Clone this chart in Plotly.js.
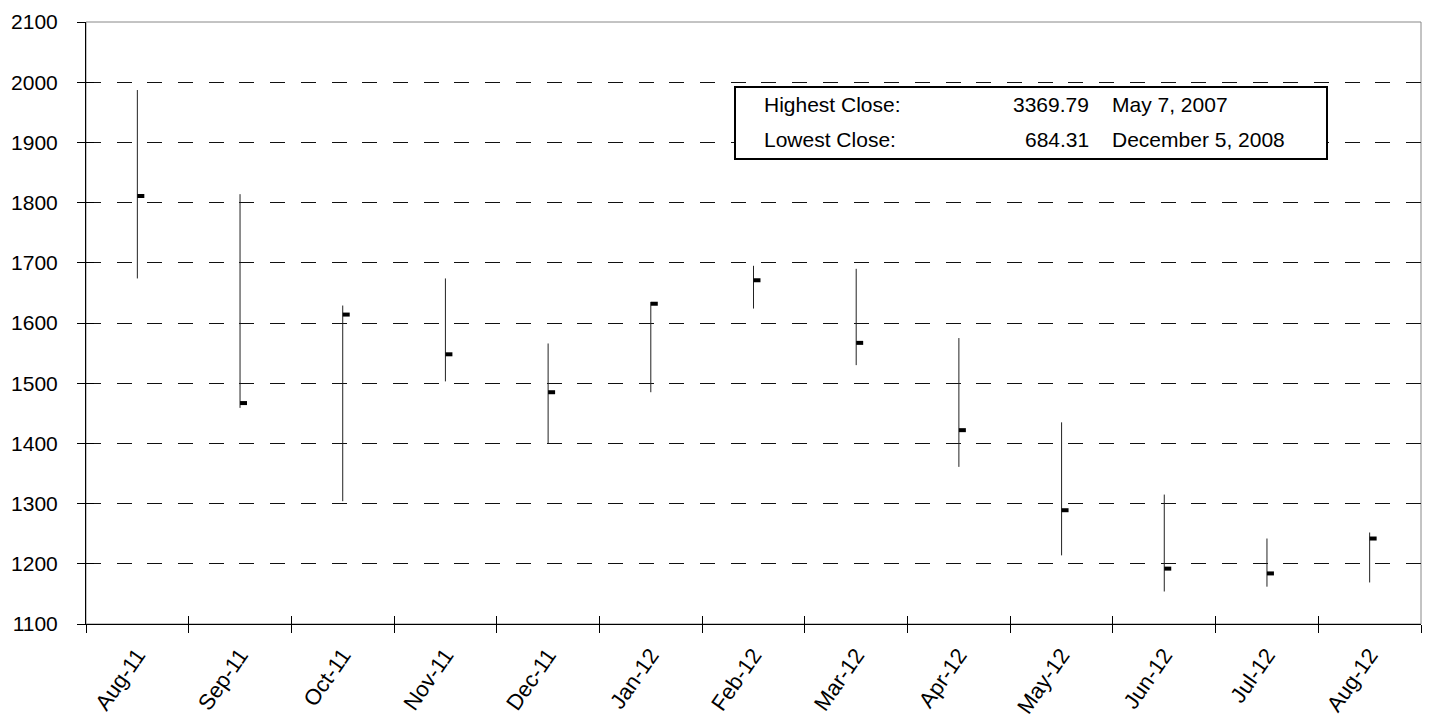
<!DOCTYPE html>
<html><head><meta charset="utf-8">
<script src="https://cdn.plot.ly/plotly-3.0.1.min.js"></script>
<style>html,body{margin:0;padding:0;background:#fff}#chart{width:1430px;height:725px}</style>
</head><body><div id="chart"></div>
<script>
const months = ['Aug-11','Sep-11','Oct-11','Nov-11','Dec-11','Jan-12','Feb-12','Mar-12','Apr-12','May-12','Jun-12','Jul-12','Aug-12'];
const highs  = [1987,1814,1629,1674,1566,1635,1695,1690,1575,1435,1315,1242,1252];
const lows   = [1674,1459,1304,1503,1400,1485,1624,1530,1361,1214,1154,1162,1169];
const closes = [1811,1467,1614,1548,1485,1632,1671,1567,1422,1289,1192,1184,1242];
const yTicks = [1100,1200,1300,1400,1500,1600,1700,1800,1900,2000,2100];
const boxLabels = ['Highest Close:','Lowest Close:'];
const boxValues = ['3369.79','684.31'];
const boxDates  = ['May 7, 2007','December 5, 2008'];

const FONT = '"Liberation Sans Narrow", "Arial Narrow", "Liberation Sans", Arial, sans-serif';
const idx = months.map((m,i)=>i);
const bounds = months.map((m,i)=>i-0.5).concat([months.length-0.5]);
const xr = [-0.5, months.length-0.5];
const yr = [yTicks[0], yTicks[yTicks.length-1]];

const hlX=[], hlY=[], cX=[], cY=[];
idx.forEach(i=>{
  hlX.push(i,i,null); hlY.push(lows[i],highs[i],null);
  cX.push(i,i+0.068,null); cY.push(closes[i],closes[i],null);
});

const traces = [
  {type:'scatter',mode:'lines',x:hlX,y:hlY,line:{color:'#222',width:1},hoverinfo:'skip',showlegend:false,connectgaps:false},
  {type:'scatter',mode:'lines',x:cX,y:cY,line:{color:'#000',width:4},hoverinfo:'skip',showlegend:false,connectgaps:false},
  {type:'scatter',mode:'markers',x:[null],y:[null],xaxis:'x2',yaxis:'y',hoverinfo:'skip',showlegend:false},
  {type:'scatter',mode:'markers',x:[null],y:[null],xaxis:'x3',yaxis:'y',hoverinfo:'skip',showlegend:false},
  {type:'scatter',mode:'markers',x:[null],y:[null],xaxis:'x',yaxis:'y2',hoverinfo:'skip',showlegend:false}
];

const L=86, R=1421, T=22, B=624;
const px = v => (v-L)/(R-L);
const py = v => (B-v)/(B-T);

const annFont = {family:FONT,size:21,color:'#000'};
const annotations = [];
const rowsY = [104,140];
boxLabels.forEach((t,k)=>{
  annotations.push({xref:'paper',yref:'paper',x:px(762),y:py(rowsY[k]),xanchor:'left',yanchor:'middle',text:t,showarrow:false,font:annFont});
  annotations.push({xref:'paper',yref:'paper',x:px(1091),y:py(rowsY[k]),xanchor:'right',yanchor:'middle',text:boxValues[k],showarrow:false,font:annFont});
  annotations.push({xref:'paper',yref:'paper',x:px(1110),y:py(rowsY[k]),xanchor:'left',yanchor:'middle',text:boxDates[k],showarrow:false,font:annFont});
});

const layout = {
  width:1430,height:725,
  margin:{l:L,r:1430-R,t:T,b:725-B,pad:0},
  paper_bgcolor:'#fff',plot_bgcolor:'#fff',
  showlegend:false,
  font:{family:FONT,size:21,color:'#000'},
  xaxis:{range:xr,tickmode:'array',tickvals:bounds,showticklabels:false,ticks:'outside',ticklen:8,tickcolor:'#000',tickwidth:1,
         showline:true,linecolor:'#000',linewidth:1,showgrid:false,zeroline:false,fixedrange:true},
  xaxis2:{overlaying:'x',anchor:'y',range:xr,tickmode:'array',tickvals:bounds,showticklabels:false,ticks:'inside',ticklen:8,tickcolor:'#000',tickwidth:1,
         showline:false,showgrid:false,zeroline:false,fixedrange:true},
  xaxis3:{overlaying:'x',anchor:'y',range:xr,tickmode:'array',tickvals:idx,ticktext:months,ticks:'',tickangle:-55,
         tickfont:{family:FONT,size:22,color:'#000'},ticklabelstandoff:13,showline:false,showgrid:false,zeroline:false,fixedrange:true},
  yaxis:{range:yr,tickmode:'array',tickvals:yTicks,ticks:'outside',ticklen:8,tickcolor:'#000',tickwidth:1,
         tickfont:{family:FONT,size:21,color:'#000'},ticklabelstandoff:15,
         showline:true,linecolor:'#000',linewidth:1,showgrid:true,gridcolor:'#111',gridwidth:1,griddash:'15px,15.7px',zeroline:false,fixedrange:true},
  yaxis2:{overlaying:'y',anchor:'x',range:yr,tickmode:'array',tickvals:yTicks,showticklabels:false,ticks:'inside',ticklen:8,tickcolor:'#000',tickwidth:1,
         showline:false,showgrid:false,zeroline:false,fixedrange:true},
  shapes:[
    {type:'rect',xref:'paper',yref:'paper',x0:0,x1:1,y0:0,y1:1,line:{color:'#888',width:1},layer:'below'},
    {type:'rect',xref:'paper',yref:'paper',x0:px(735),x1:px(1327),y0:py(159),y1:py(87),line:{color:'#000',width:2},fillcolor:'#fff',layer:'above'}
  ],
  annotations:annotations
};
Plotly.newPlot('chart',traces,layout,{displayModeBar:false,staticPlot:true});
</script></body></html>
